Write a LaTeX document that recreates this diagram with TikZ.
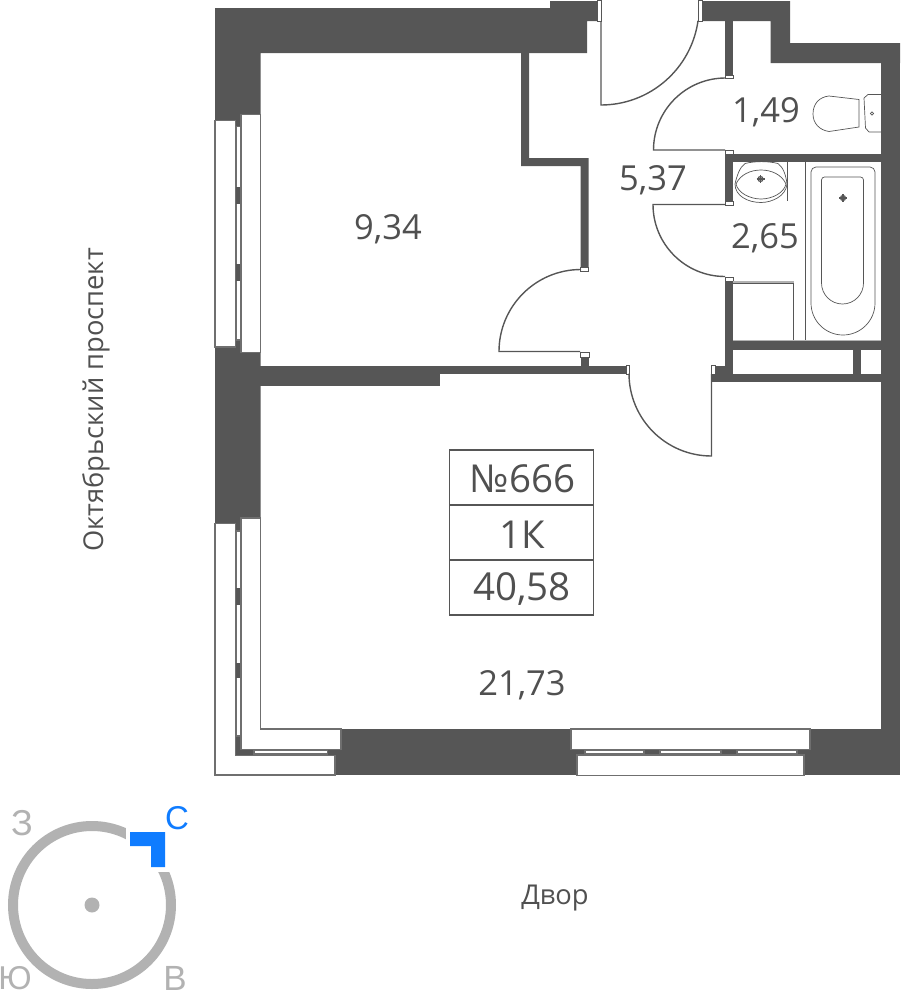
\documentclass[tikz,border=0pt]{standalone}
\usepackage{fontspec}
\setmainfont{Open Sans}
\newfontfamily\compassfont{Liberation Sans}
\definecolor{wallgrey}{RGB}{86, 86, 86}
\definecolor{textgrey}{RGB}{80, 80, 80}
\definecolor{ringgrey}{RGB}{178, 178, 178}
\definecolor{northblue}{RGB}{15, 124, 255}
\newcommand{\labelsize}[1]{\fontsize{#1}{#1}\selectfont}

\begin{document}
\begin{tikzpicture}
  [
    x=1pt, y=-1pt,
    wall/.style={fill=wallgrey},
    glass/.style={fill=white, draw=wallgrey!85, line width=1.2pt},
    jamb/.style={fill=white, draw=wallgrey, line width=1pt},
    leaf/.style={draw=wallgrey, line width=1.4pt},
    fixture/.style={draw=wallgrey, line width=0.7pt},
    tap/.style={draw=wallgrey, line width=1.2pt},
    area/.style={text=textgrey, font=\labelsize{34.5}},
    flatinfo/.style={text=textgrey, font=\labelsize{38.5}},
    caption/.style={text=textgrey, font=\labelsize{27.3}},
    compass/.style={text=ringgrey, font=\compassfont\labelsize{33}}
  ]
  \useasboundingbox (0, 0) rectangle (900, 991);

  % outer walls
  \fill[wall] (215, 8) -- (550, 8) -- (550, 1) -- (597, 1) -- (597, 21) -- (587, 21) -- (587, 53)
    -- (260.5, 53) -- (260.5, 530) -- (215, 530) -- cycle;
  \fill[wall] (702, 1) -- (790, 1) -- (790, 43) -- (900, 43) -- (900, 63) -- (770.5, 63)
    -- (770.5, 21) -- (702, 21) -- cycle;
  \fill[wall] (881, 43) rectangle (900, 775);
  \fill[wall] (335, 729) rectangle (900, 775);
  \fill[wall] (235.5, 525) rectangle (241, 755.5);
  \fill[wall] (235.5, 749.5) rectangle (341, 755.5);

  % inner walls
  \fill[wall] (260, 366) rectangle (440, 386);
  \fill[wall] (440, 366) rectangle (627, 374);
  \fill[wall] (581, 357) rectangle (589, 366);
  \fill[wall] (521, 53) -- (529, 53) -- (529, 158) -- (588.5, 158) -- (588.5, 267) -- (580.5, 267)
    -- (580.5, 166) -- (521, 166) -- cycle;
  \fill[wall] (725, 21) rectangle (733, 75);
  \fill[wall] (725, 154) rectangle (881, 162);
  \fill[wall] (725, 154) rectangle (733, 203);
  \fill[wall] (725, 280) rectangle (733, 382);
  \fill[wall] (725, 341) rectangle (881, 349.5);
  \fill[wall] (711, 374) rectangle (881, 382);
  \fill[wall] (711, 366) rectangle (725, 374);
  \fill[wall] (852.5, 349) rectangle (860.5, 375);

  % west windows
  \draw[glass] (236.5, 126.5) rectangle (240.5, 340);
  \fill[wall] (235.5, 187) rectangle (241.5, 203.5);
  \fill[wall] (235.5, 264) rectangle (241.5, 280.5);
  \draw[glass] (215, 120.5) rectangle (235.5, 347);
  \draw[glass] (241, 114.5) rectangle (260.5, 352.5);

  \draw[glass] (236.5, 531) rectangle (240.5, 736);
  \fill[wall] (235.5, 588) rectangle (241.5, 604.5);
  \fill[wall] (235.5, 663) rectangle (241.5, 678);
  \draw[glass] (254, 750.5) rectangle (327.5, 754);
  \draw[glass] (215, 523.5) -- (235.5, 523.5) -- (235.5, 755.5) -- (335, 755.5) -- (335, 775)
    -- (215, 775) -- cycle;
  \draw[glass] (241, 518) -- (260.5, 518) -- (260.5, 729) -- (341, 729) -- (341, 749.5)
    -- (241, 749.5) -- cycle;

  % south window
  \draw[glass] (585, 750.5) rectangle (644, 754);
  \draw[glass] (660, 750.5) rectangle (721, 754);
  \draw[glass] (737, 750.5) rectangle (797, 754);
  \draw[glass] (571, 729) rectangle (810, 749.5);
  \draw[glass] (577, 755) rectangle (804, 775.5);

  % doors
  \draw[jamb] (597.5, 0.5) rectangle (601, 21);
  \draw[jamb] (698.5, 0.5) rectangle (702, 21);
  \draw[leaf] (601, 21) -- (601, 105) arc[start angle=90, end angle=8, radius=98];
  \draw[jamb] (725.5, 75) rectangle (733, 78.5);
  \draw[jamb] (725.5, 150.5) rectangle (733, 154);
  \draw[leaf] (725, 150) -- (653.5, 150) arc[start angle=180, end angle=270, radius=72];
  \draw[jamb] (725.5, 201.5) rectangle (733, 205);
  \draw[jamb] (725.5, 277) rectangle (733, 281);
  \draw[leaf] (725, 204.5) -- (653, 204.5) arc[start angle=180, end angle=90, radius=72];
  \draw[jamb] (580.5, 267) rectangle (588.5, 271);
  \draw[jamb] (580.5, 352.5) rectangle (589, 357);
  \draw[leaf] (580, 351.5) -- (499, 351.5) arc[start angle=180, end angle=270, radius=82];
  \draw[jamb] (626, 365.5) rectangle (629.5, 374.5);
  \draw[jamb] (711.5, 365.5) rectangle (715, 374.5);
  \draw[leaf] (711.5, 374) -- (711.5, 456) arc[start angle=90, end angle=180, radius=82.5];

  % toilet
  \draw[fixture] (881, 94.5) -- (868, 94.5) -- (864, 98) -- (865.5, 128) -- (869, 132) -- (881, 132);
  \draw[fixture] (872, 113.5) circle[radius=1.7];
  \draw[fixture] (829, 96) -- (859, 99.5) -- (859, 127) -- (829, 131.5)
    .. controls (819, 130) and (813, 123) .. (813, 114)
    .. controls (813, 104) and (819, 97) .. (829, 96);

  % sink
  \draw[fixture] (787, 162) -- (787, 201);
  \draw[fixture] (735, 184) .. controls (737, 175) and (740, 167) .. (745, 163.5)
    .. controls (755, 161) and (768, 161) .. (778, 163.5)
    .. controls (783, 167) and (786, 175) .. (787, 184)
    .. controls (786, 196) and (772, 202.5) .. (761, 202.5)
    .. controls (748, 202.5) and (735, 196) .. (735, 184) -- cycle;
  \draw[fixture] (736, 184) .. controls (740, 175) and (750, 170) .. (761, 170)
    .. controls (772, 170) and (782, 175) .. (786, 184)
    .. controls (784, 193) and (772, 199) .. (761, 199)
    .. controls (750, 199) and (738, 193) .. (736, 184) -- cycle;
  \draw[tap] (760.5, 179) circle[radius=2.5];
  \draw[tap] (756.5, 179) -- (764.5, 179) (760.5, 175) -- (760.5, 183);

  % bath and washer
  \draw[fixture] (805, 162) -- (805, 341);
  \draw[fixture] (811, 303) -- (811, 172) arc[start angle=180, end angle=270, radius=5]
    -- (870, 167) arc[start angle=270, end angle=360, radius=5] -- (875, 303)
    arc[start angle=0, end angle=180, radius=32];
  \draw[fixture] (821.5, 283) -- (821.5, 180) arc[start angle=180, end angle=270, radius=3]
    -- (860.5, 177) arc[start angle=270, end angle=360, radius=3] -- (863.5, 283)
    arc[start angle=0, end angle=180, radius=21];
  \draw[tap] (843, 198) circle[radius=2.5];
  \draw[tap] (839, 198) -- (847, 198) (843, 194) -- (843, 202);
  \draw[fixture] (733, 283) -- (793.5, 283) -- (793.5, 341);
  \fill[ringgrey] (733, 280.5) rectangle (793.5, 283);
  \fill[ringgrey] (733, 340) rectangle (881, 341);

  % areas
  \node[area] (bedroom) at (388, 229.5) {9,34};
  \node[area] (hall) at (653, 180.5) {5,37};
  \node[area] (toiletroom) at (766, 112.5) {1,49};
  \node[area] (bathroom) at (765, 238.5) {2,65};
  \node[area] (livingroom) at (522, 685.5) {21,73};

  % flat table
  \draw[draw=wallgrey, line width=1.3pt] (449.5, 450) rectangle (593.5, 615);
  \draw[draw=wallgrey, line width=1.3pt] (449.5, 505) -- (593.5, 505);
  \draw[draw=wallgrey, line width=1.3pt] (449.5, 560) -- (593.5, 560);
  \node[flatinfo] (flatnumber) at (522.5, 479) {№666};
  \node[flatinfo] (flatrooms) at (522, 535) {1К};
  \node[flatinfo] (flatarea) at (522, 589) {40,58};

  % street names
  \node[caption, rotate=90] (street) at (96, 400) {Октябрьский проспект};
  \node[caption] (yard) at (555, 898.5) {Двор};

  % compass
  \draw[ringgrey, line width=10pt] (92, 905) circle[radius=79];
  \fill[white] (126, 805) rectangle (185, 871.5);
  \fill[ringgrey] (92, 905) circle[radius=7.5];
  \fill[northblue] (130, 832) -- (165, 832) -- (165, 867) -- (151, 867) -- (151, 846) -- (130, 846) -- cycle;
  \node[compass, font=\compassfont\labelsize{36}] (west) at (22, 823) {З};
  \node[compass, text=northblue] (north) at (177, 818) {С};
  \node[compass] (south) at (15, 978) {Ю};
  \node[compass, font=\compassfont\labelsize{35}] (east) at (175, 978.5) {В};
\end{tikzpicture}
\end{document}
